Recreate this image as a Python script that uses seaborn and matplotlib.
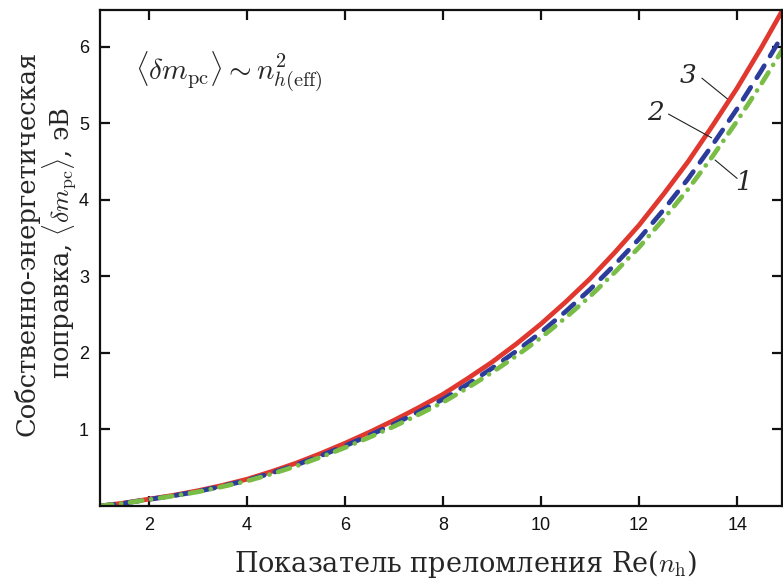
import matplotlib
matplotlib.use("Agg")
import matplotlib.pyplot as plt
import seaborn as sns
import pandas as pd

# Показатель преломления и поправки для трёх кривых
n_h = [1, 1.5, 2, 2.5, 3, 3.5, 4, 4.5, 5, 5.5, 6, 6.5, 7, 7.5, 8, 8.5,
       9, 9.5, 10, 10.5, 11, 11.5, 12, 12.5, 13, 13.5, 14, 14.5, 15]
curve_3 = [0, 0.04, 0.09, 0.14, 0.20, 0.27, 0.35, 0.45, 0.56, 0.685, 0.82, 0.965,
           1.12, 1.285, 1.46, 1.665, 1.88, 2.12, 2.38, 2.665, 2.97, 3.31, 3.67,
           4.075, 4.50, 4.97, 5.46, 5.995, 6.56]
curve_2 = [0, 0.038, 0.086, 0.134, 0.19, 0.26, 0.335, 0.43, 0.535, 0.655, 0.785,
           0.925, 1.07, 1.23, 1.395, 1.59, 1.80, 2.025, 2.27, 2.54, 2.83, 3.15,
           3.49, 3.87, 4.275, 4.72, 5.19, 5.695, 6.23]
curve_1 = [0, 0.037, 0.084, 0.131, 0.185, 0.253, 0.326, 0.418, 0.52, 0.637, 0.763,
           0.898, 1.04, 1.194, 1.355, 1.543, 1.745, 1.963, 2.20, 2.46, 2.74, 3.05,
           3.38, 3.75, 4.14, 4.57, 5.03, 5.52, 6.04]
x_ticks = [2, 4, 6, 8, 10, 12, 14]
y_ticks = [1, 2, 3, 4, 5, 6]

df = pd.DataFrame({"n": n_h, "c3": curve_3, "c2": curve_2, "c1": curve_1})

sns.set_theme(style="ticks")
plt.rcParams["font.family"] = ["DejaVu Serif"]
plt.rcParams["mathtext.fontset"] = "cm"

fig = plt.figure(figsize=(7.83, 5.82), dpi=100)
ax = fig.add_axes([0.1277, 0.1306, 0.8713, 0.8522])

# красная сплошная (3), синяя штриховая (2), зелёная штрихпунктир (1)
sns.lineplot(data=df, x="n", y="c3", color="#e0382f", linewidth=3.4, ax=ax)
sns.lineplot(data=df, x="n", y="c2", color="#2b3c9b", linewidth=3.4,
             ax=ax, linestyle=(0, (3.0, 2.4)), dash_capstyle="round")
sns.lineplot(data=df, x="n", y="c1", color="#79bd47", linewidth=3.4,
             ax=ax, linestyle=(0, (2.6, 1.9, 0.01, 1.9)), dash_capstyle="round")

ax.set_xlim(1, 14.92)
ax.set_ylim(0, 6.48)
ax.set_xticks(x_ticks)
ax.set_yticks(y_ticks)
ax.tick_params(direction="in", length=7, width=1.6, top=True, right=True, pad=8,
               labelsize=13, colors="#111111")
for lab in ax.get_xticklabels() + ax.get_yticklabels():
    lab.set_fontfamily("Liberation Sans")
for sp in ax.spines.values():
    sp.set_linewidth(1.6)
    sp.set_color("#111111")

ax.set_xlabel(r"Показатель преломления Re($n_{\rm h}$)", fontsize=19.5)
ax.xaxis.set_label_coords(0.536, -0.084)
ax.set_ylabel("Собственно-энергетическая\n" + r"поправка, $\langle\delta m_{\rm pc}\rangle$, эВ",
              fontsize=18.5, linespacing=1.02)
ax.yaxis.set_label_coords(-0.032, 0.53)

ax.text(1.72, 5.57, r"$\langle\delta m_{\rm pc}\rangle \sim n^2_{h({\rm eff})}$",
        fontsize=21, ha="left", va="baseline")

# подписи кривых с выносками
ax.text(13.0, 5.63, "3", fontsize=19, style="italic", ha="center", va="center")
ax.plot([13.28, 13.80], [5.59, 5.32], color="#222222", linewidth=0.8)
ax.text(12.33, 5.14, "2", fontsize=19, style="italic", ha="center", va="center")
ax.plot([12.60, 13.48], [5.12, 4.81], color="#222222", linewidth=0.8)
ax.text(14.13, 4.22, "1", fontsize=19, style="italic", ha="center", va="center")
ax.plot([14.0, 13.55], [4.28, 4.52], color="#222222", linewidth=0.8)

fig.savefig("out.png", dpi=100)
